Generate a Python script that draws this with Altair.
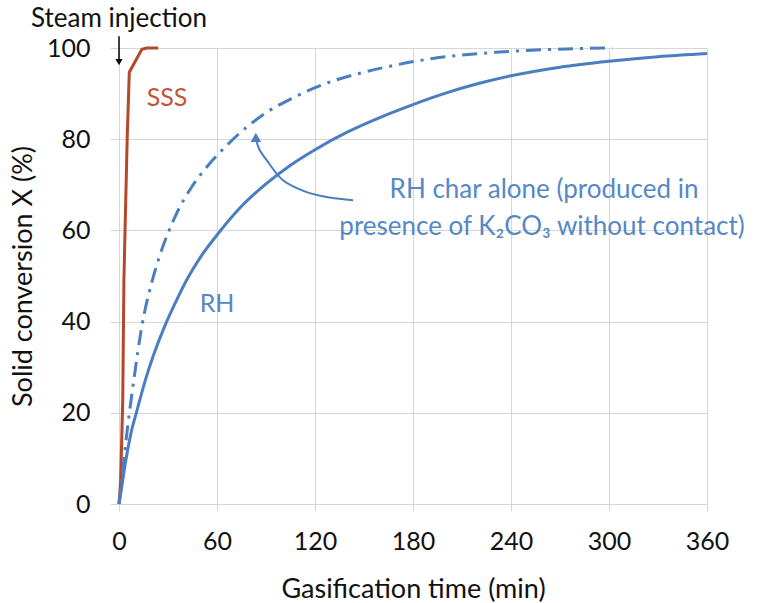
import altair as alt
import pandas as pd

# --- data ---
sss_t = [0, 1, 2.3, 3, 3.7, 5, 6.3, 14, 17, 24]
sss_x = [0, 5, 22.8, 49, 60, 80, 94.7, 99.7, 100, 100]

rh_t = [0, 2, 4, 7, 11, 16, 21, 28, 35, 42, 50, 60, 75, 90, 105, 120, 140, 160,
        180, 200, 220, 240, 270, 300, 330, 360]
rh_x = [0, 4.5, 9.2, 15, 20.5, 27, 32.5, 39, 44.5, 49.5, 54.2, 59, 65.3, 70.2, 74.3, 77.7, 81.6,
        84.8, 87.6, 90.1, 92.2, 93.9, 95.8, 97.1, 98.1, 98.8]

char_t = [0, 2, 4, 6, 9, 14, 20, 25, 35, 45, 54, 65, 78, 90, 105, 120, 133, 150, 162,
          192, 233, 274, 302]
char_x = [0, 6, 13, 19, 27, 39, 48.5, 54.5, 63.5, 69.8, 74, 78.3, 82.6, 85.8, 88.8, 91.3,
          93.0, 94.7, 95.7, 97.7, 99.1, 99.8, 100]

x_ticks = [0, 60, 120, 180, 240, 300, 360]
y_ticks = [0, 20, 40, 60, 80, 100]

# annotation anchors (data units)
arrow_curve_t = [143.3, 129.2, 114.9, 100.4, 90.4, 85.9, 84.3]
arrow_curve_x = [66.6, 67.2, 68.4, 71.0, 75.4, 77.8, 79.5]
arrow_tip = {"t": [83.8], "x": [80.4]}

steam_rule = {"t": [0], "x": [102.6], "x2": [97.5]}
steam_tip = {"t": [0], "x": [96.9]}

labels_black = {"t": [0], "x": [104.5], "text": ["Steam injection"]}
labels_sss = {"t": [29.4], "x": [89], "text": ["SSS"]}
labels_blue = {"t": [60, 260.2, 259], "x": [43.8, 67.0, 58.9],
               "text": ["RH", "RH char alone (produced in",
                        "presence of K\u2082CO\u2083 without contact)"]}

BLUE = "#4A7EC0"
BLUE_TXT = "#5688C6"
BROWN = "#B5472B"
GRID = "#D6D6D6"
FONT = "Lato"

xs = alt.Scale(domain=[0, 360], nice=False)
ys = alt.Scale(domain=[0, 100], nice=False)

xenc = alt.X("t:Q", scale=xs, axis=alt.Axis(
    values=x_ticks, title="Gasification time (min)", grid=True, gridColor=GRID,
    domainColor=GRID, tickColor=GRID, tickSize=7, labelPadding=38, labelFlush=False,
    labelOverlap=False, labelBaseline="alphabetic", labelFont=FONT, labelFontSize=25,
    labelColor="#111",
    titleFont=FONT, titleFontSize=27, titleFontWeight="normal", titleColor="#111",
    titleX=294, titleY=93, titleBaseline="alphabetic"))
yenc = alt.Y("x:Q", scale=ys, axis=alt.Axis(
    values=y_ticks, title="Solid conversion X (%)", grid=True, gridColor=GRID,
    domainColor=GRID, tickColor=GRID, tickSize=9, labelPadding=20, labelFlush=False,
    labelOverlap=False, labelBaseline="middle", labelFont=FONT, labelFontSize=25,
    labelColor="#111",
    titleFont=FONT, titleFontSize=27, titleFontWeight="normal", titleColor="#111",
    titleX=-96, titleY=228, titleAngle=-90, titleAlign="center",
    titleBaseline="middle"))

df_sss = pd.DataFrame({"t": sss_t, "x": sss_x})
df_rh = pd.DataFrame({"t": rh_t, "x": rh_x})
df_char = pd.DataFrame({"t": char_t, "x": char_x})
df_curve = pd.DataFrame({"t": arrow_curve_t, "x": arrow_curve_x,
                         "o": list(range(len(arrow_curve_t)))})

sss = alt.Chart(df_sss).mark_line(color=BROWN, strokeWidth=3).encode(x=xenc, y=yenc)
rh = alt.Chart(df_rh).mark_line(color=BLUE, strokeWidth=3, interpolate="monotone").encode(
    x="t:Q", y="x:Q")
char = alt.Chart(df_char).mark_line(color=BLUE, strokeWidth=3, interpolate="monotone",
                                    strokeDash=[15, 7, 3, 7]).encode(x="t:Q", y="x:Q")

curve = alt.Chart(df_curve).mark_line(color=BLUE, strokeWidth=2,
                                      interpolate="cardinal").encode(
    x="t:Q", y="x:Q", order="o:Q")
curve_tip = alt.Chart(pd.DataFrame(arrow_tip)).mark_point(
    shape="triangle-up", filled=True, size=110, color=BLUE, opacity=1).encode(
    x="t:Q", y="x:Q")

steam = alt.Chart(pd.DataFrame(steam_rule)).mark_rule(color="black", strokeWidth=1.5).encode(
    x="t:Q", y="x:Q", y2="x2:Q")
steam_head = alt.Chart(pd.DataFrame(steam_tip)).mark_point(
    shape="triangle-down", filled=True, size=50, color="black", opacity=1).encode(
    x="t:Q", y="x:Q")

txt_black = alt.Chart(pd.DataFrame(labels_black)).mark_text(
    font=FONT, fontSize=26, color="#111", align="center", baseline="alphabetic").encode(
    x="t:Q", y="x:Q", text="text:N")
txt_sss = alt.Chart(pd.DataFrame(labels_sss)).mark_text(
    font=FONT, fontSize=25, color="#C0553A", align="center", baseline="middle").encode(
    x="t:Q", y="x:Q", text="text:N")
df_blue = pd.DataFrame(labels_blue)
txt_rh = alt.Chart(df_blue.iloc[[0]]).mark_text(
    font=FONT, fontSize=25, color=BLUE_TXT, align="center", baseline="middle").encode(
    x="t:Q", y="x:Q", text="text:N")
txt_ann = alt.Chart(df_blue.iloc[1:]).mark_text(
    font=FONT, fontSize=26, color=BLUE_TXT, align="center", baseline="alphabetic").encode(
    x="t:Q", y="x:Q", text="text:N")

chart = alt.layer(sss, rh, char, curve, curve_tip, steam, steam_head,
                  txt_black, txt_sss, txt_rh, txt_ann).properties(
    width=588, height=456, autosize="none",
    padding={"left": 119, "top": 48, "right": 51, "bottom": 99},
    background="white",
).configure_view(stroke="transparent")

chart.save("out.html", embed_options={"renderer": "svg", "actions": False})
